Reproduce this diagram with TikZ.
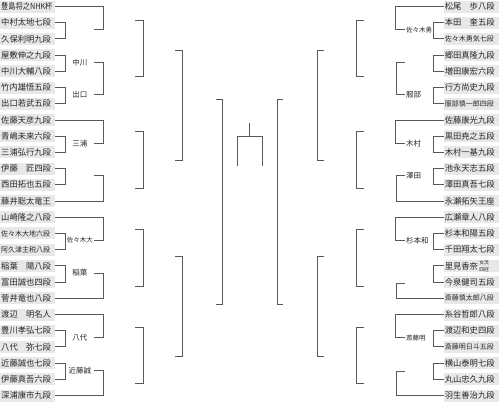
\documentclass[tikz,border=0pt]{standalone}
\usepackage{graphicx}
\usepackage{fontspec}
\setmainfont{Noto Sans CJK JP}
\usepackage{tikz}

\newcommand{\smallname}{\fontsize{7}{8}\selectfont}
\newcommand{\smalllabel}{\fontsize{6.5}{7}\selectfont}

\begin{document}
\begin{tikzpicture}[
			x=1pt, y=-1pt,
			% boxes for the players, lines for the bracket
			namebox/.style={fill=black!9, text=black!85, inner xsep=1pt, inner ysep=0pt,
				text width=53pt, align=left, minimum height=12pt, font=\fontsize{8.3}{9}\selectfont},
			lname/.style={namebox, anchor=west},
			rname/.style={namebox, anchor=east},
			lwin/.style={text=black!85, minimum width=28pt, inner sep=0pt, anchor=east, font=\fontsize{7.5}{8}\selectfont},
			rwin/.style={text=black!85, inner xsep=1pt, inner ysep=0pt, anchor=west, font=\fontsize{7.5}{8}\selectfont},
			link/.style={draw=black!65, line width=0.9pt}
			]

			\useasboundingbox (0,0) rectangle (499,402);

			% left half
			\node[lname] (l1) at (0,6.5) {\scalebox{0.87}[1]{豊島将之NHK杯}};
			\node[lname] (l2) at (0,22.7) {中村太地七段};
			\node[lname] (l3) at (0,38.9) {久保利明九段};
			\node[lname] (l4) at (0,55.1) {屋敷伸之九段};
			\node[lname] (l5) at (0,71.3) {中川大輔八段};
			\node[lname] (l6) at (0,87.6) {竹内雄悟五段};
			\node[lname] (l7) at (0,103.8) {出口若武五段};
			\node[lname] (l8) at (0,120) {佐藤天彦九段};
			\node[lname] (l9) at (0,136.2) {青嶋未来六段};
			\node[lname] (l10) at (0,152.4) {三浦弘行九段};
			\node[lname] (l11) at (0,168.6) {伊藤　匠四段};
			\node[lname] (l12) at (0,184.8) {西田拓也五段};
			\node[lname] (l13) at (0,201) {藤井聡太竜王};
			\node[lname] (l14) at (0,217.2) {山崎隆之八段};
			\node[lname] (l15) at (0,233.4) {\smallname 佐々木大地六段};
			\node[lname] (l16) at (0,249.7) {\smallname 阿久津主税八段};
			\node[lname] (l17) at (0,265.9) {稲葉　陽八段};
			\node[lname] (l18) at (0,282.1) {冨田誠也四段};
			\node[lname] (l19) at (0,298.3) {菅井竜也八段};
			\node[lname] (l20) at (0,314.5) {渡辺　明名人};
			\node[lname] (l21) at (0,330.7) {豊川孝弘七段};
			\node[lname] (l22) at (0,346.9) {八代　弥七段};
			\node[lname] (l23) at (0,363.1) {近藤誠也七段};
			\node[lname] (l24) at (0,379.3) {伊藤真吾六段};
			\node[lname] (l25) at (0,395.5) {深浦康市九段};

			\coordinate (lw1) at (94,29.8);
			\node[lwin] (lw2) at (94,62.2) {中川};
			\node[lwin] (lw3) at (94,94.7) {出口};
			\node[lwin] (lw4) at (94,143.3) {三浦};
			\coordinate (lw5) at (94,175.7);
			\node[lwin] (lw6) at (94,240.5) {\smalllabel 佐々木大};
			\node[lwin] (lw7) at (94,273) {稲葉};
			\node[lwin] (lw8) at (94,337.8) {八代};
			\node[lwin] (lw9) at (94,370.2) {近藤誠};

			\draw[link] (l2.east) -- ++(10,0) |- (l3.east);
			\draw[link] (l4.east) -- ++(10,0) |- (l5.east);
			\draw[link] (l6.east) -- ++(10,0) |- (l7.east);
			\draw[link] (l9.east) -- ++(10,0) |- (l10.east);
			\draw[link] (l11.east) -- ++(10,0) |- (l12.east);
			\draw[link] (l15.east) -- ++(10,0) |- (l16.east);
			\draw[link] (l17.east) -- ++(10,0) |- (l18.east);
			\draw[link] (l21.east) -- ++(10,0) |- (l22.east);
			\draw[link] (l23.east) -- ++(10,0) |- (l24.east);

			\draw[link] (l1.east) -- ++(48,0) |- (lw1);
			\draw[link] (lw2.east) -- ++(9,0) |- (lw3.east);
			\draw[link] (l8.east) -- ++(48,0) |- (lw4.east);
			\draw[link] (lw5) -- ++(9,0) |- (l13.east);
			\draw[link] (l14.east) -- ++(48,0) |- (lw6.east);
			\draw[link] (lw7.east) -- ++(9,0) |- (l19.east);
			\draw[link] (l20.east) -- ++(48,0) |- (lw8.east);
			\draw[link] (lw9.east) -- ++(9,0) |- (l25.east);

			\coordinate (lq1) at (135,20);
			\coordinate (lq2) at (135,76);
			\coordinate (lq3) at (135,131);
			\coordinate (lq4) at (135,188);
			\coordinate (lq5) at (135,229);
			\coordinate (lq6) at (135,286);
			\coordinate (lq7) at (135,327);
			\coordinate (lq8) at (135,383);
			\draw[link] (lq1) -- ++(8,0) |- (lq2);
			\draw[link] (lq3) -- ++(8,0) |- (lq4);
			\draw[link] (lq5) -- ++(8,0) |- (lq6);
			\draw[link] (lq7) -- ++(8,0) |- (lq8);

			\coordinate (ls1) at (175,50);
			\coordinate (ls2) at (175,160);
			\coordinate (ls3) at (175,256);
			\coordinate (ls4) at (175,356);
			\draw[link] (ls1) -- ++(7,0) |- (ls2);
			\draw[link] (ls3) -- ++(7,0) |- (ls4);

			\coordinate (lf1) at (216,99);
			\coordinate (lf2) at (216,304);
			\draw[link] (lf1) -- ++(6,0) |- (lf2);

			% final
			\coordinate (top) at (249.5,123);
			\coordinate (bar) at (249.5,136);
			\coordinate (fl) at (237,166);
			\coordinate (fr) at (262,166);
			\draw[link] (top) -- (bar);
			\draw[link] (fl) -- ++(0,-30) -| (fr);

			% right half
			\node[rname] (r1) at (499,6.5) {松尾　歩八段};
			\node[rname] (r2) at (499,22.7) {本田　奎五段};
			\node[rname] (r3) at (499,38.9) {\smallname 佐々木勇気七段};
			\node[rname] (r4) at (499,55.1) {郷田真隆九段};
			\node[rname] (r5) at (499,71.3) {増田康宏六段};
			\node[rname] (r6) at (499,87.6) {行方尚史九段};
			\node[rname] (r7) at (499,103.8) {\smallname 服部慎一郎四段};
			\node[rname] (r8) at (499,120) {佐藤康光九段};
			\node[rname] (r9) at (499,136.2) {黒田尭之五段};
			\node[rname] (r10) at (499,152.4) {木村一基九段};
			\node[rname] (r11) at (499,168.6) {池永天志五段};
			\node[rname] (r12) at (499,184.8) {澤田真吾七段};
			\node[rname] (r13) at (499,201) {永瀬拓矢王座};
			\node[rname] (r14) at (499,217.2) {広瀬章人八段};
			\node[rname] (r15) at (499,233.4) {杉本和陽五段};
			\node[rname] (r16) at (499,249.7) {千田翔太七段};
			\node[rname] (r17) at (499,265.9) {里見香奈\,\raisebox{-1.5pt}{\fontsize{4.8}{5}\selectfont\shortstack{女流\\四冠}}};
			\node[rname] (r18) at (499,282.1) {今泉健司五段};
			\node[rname] (r19) at (499,298.3) {\smallname 斎藤慎太郎八段};
			\node[rname] (r20) at (499,314.5) {糸谷哲郎八段};
			\node[rname] (r21) at (499,330.7) {渡辺和史四段};
			\node[rname] (r22) at (499,346.9) {\smallname 斎藤明日斗五段};
			\node[rname] (r23) at (499,363.1) {横山泰明七段};
			\node[rname] (r24) at (499,379.3) {丸山忠久九段};
			\node[rname] (r25) at (499,395.5) {羽生善治九段};

			\node[rwin] (rw1) at (405,29.8) {\smalllabel 佐々木勇};
			\coordinate (rw2) at (405,62.2);
			\node[rwin] (rw3) at (405,94.7) {服部};
			\node[rwin] (rw4) at (405,143.3) {木村};
			\node[rwin] (rw5) at (405,175.7) {澤田};
			\node[rwin] (rw6) at (405,240.5) {杉本和};
			\coordinate (rw7) at (405,283);
			\node[rwin] (rw8) at (405,337.8) {\smalllabel 斎藤明};
			\coordinate (rw9) at (405,371.5);

			\draw[link] (r2.west) -- ++(-10,0) |- (r3.west);
			\draw[link] (r4.west) -- ++(-10,0) |- (r5.west);
			\draw[link] (r6.west) -- ++(-10,0) |- (r7.west);
			\draw[link] (r9.west) -- ++(-10,0) |- (r10.west);
			\draw[link] (r11.west) -- ++(-10,0) |- (r12.west);
			\draw[link] (r15.west) -- ++(-10,0) |- (r16.west);
			\draw[link] (r17.west) -- ++(-10,0) |- (r18.west);
			\draw[link] (r21.west) -- ++(-10,0) |- (r22.west);
			\draw[link] (r23.west) -- ++(-10,0) |- (r24.west);

			\draw[link] (r1.west) -- ++(-48,0) |- (rw1.west);
			\draw[link] (rw2) -- ++(-9,0) |- (rw3.west);
			\draw[link] (r8.west) -- ++(-48,0) |- (rw4.west);
			\draw[link] (rw5.west) -- ++(-9,0) |- (r13.west);
			\draw[link] (r14.west) -- ++(-48,0) |- (rw6.west);
			\draw[link] (rw7) -- ++(-9,0) |- (r19.west);
			\draw[link] (r20.west) -- ++(-48,0) |- (rw8.west);
			\draw[link] (rw9) -- ++(-9,0) |- (r25.west);

			\coordinate (rq1) at (364,20);
			\coordinate (rq2) at (364,76);
			\coordinate (rq3) at (364,131);
			\coordinate (rq4) at (364,188);
			\coordinate (rq5) at (364,229);
			\coordinate (rq6) at (364,286);
			\coordinate (rq7) at (364,327);
			\coordinate (rq8) at (364,383);
			\draw[link] (rq1) -- ++(-8,0) |- (rq2);
			\draw[link] (rq3) -- ++(-8,0) |- (rq4);
			\draw[link] (rq5) -- ++(-8,0) |- (rq6);
			\draw[link] (rq7) -- ++(-8,0) |- (rq8);

			\coordinate (rs1) at (324,50);
			\coordinate (rs2) at (324,160);
			\coordinate (rs3) at (324,256);
			\coordinate (rs4) at (324,356);
			\draw[link] (rs1) -- ++(-7,0) |- (rs2);
			\draw[link] (rs3) -- ++(-7,0) |- (rs4);

			\coordinate (rf1) at (283,99);
			\coordinate (rf2) at (283,304);
			\draw[link] (rf1) -- ++(-6,0) |- (rf2);

		\end{tikzpicture}
\end{document}
